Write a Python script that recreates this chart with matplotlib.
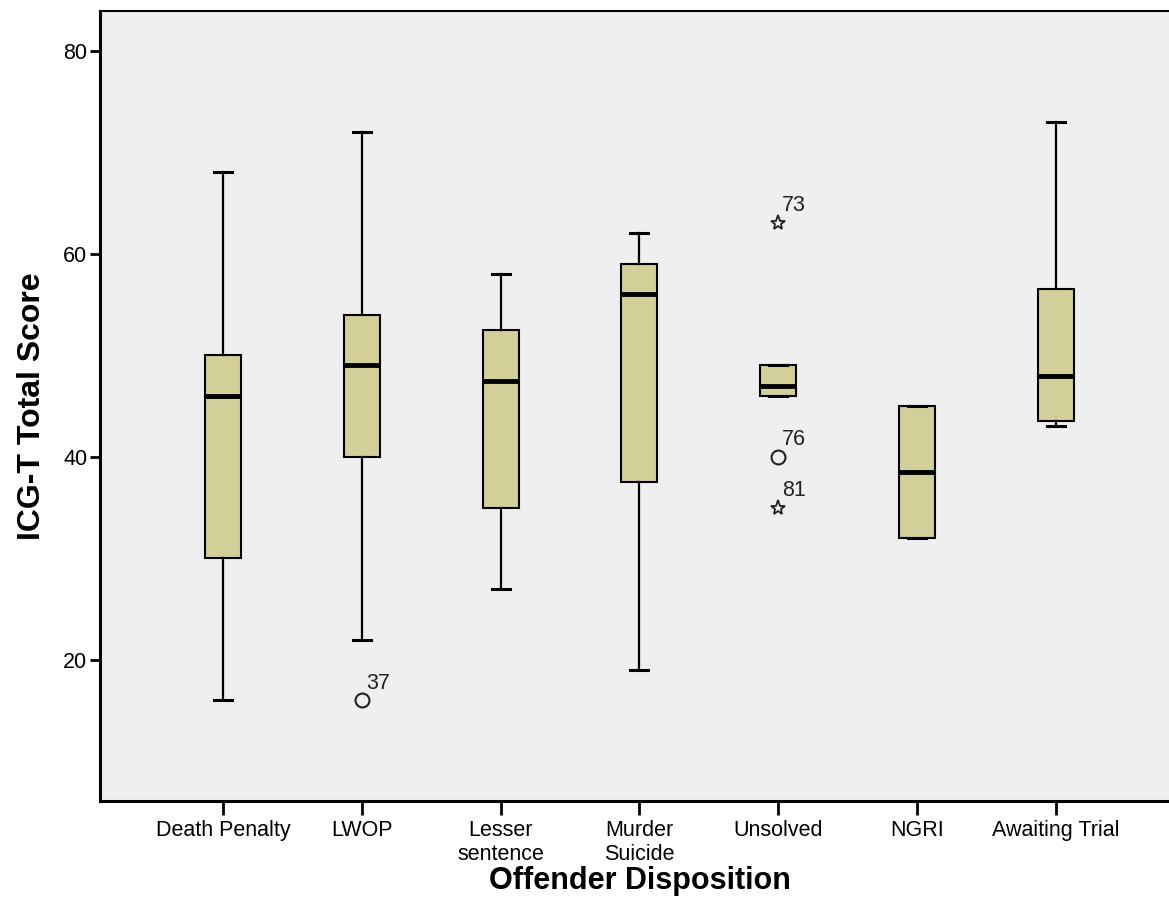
import matplotlib
matplotlib.use("Agg")
import matplotlib.pyplot as plt

plt.rcParams['font.family'] = ['Liberation Sans', 'DejaVu Sans']

# box statistics
categories = ['Death Penalty', 'LWOP', 'Lesser\nsentence', 'Murder\nSuicide',
              'Unsolved', 'NGRI', 'Awaiting Trial']
whis_lo = [16, 22, 27, 19, 46, 32, 43]
q1 = [30, 40, 35, 37.5, 46, 32, 43.5]
med = [46, 49, 47.5, 56, 47, 38.5, 48]
q3 = [50, 54, 52.5, 59, 49, 45, 56.5]
whis_hi = [68, 72, 58, 62, 49, 45, 73]

# outliers: category index, value, marker kind, case number
out_cat = [1, 4, 4, 4]
out_val = [16, 63, 40, 35]
out_kind = ['o', '*', 'o', '*']
out_id = ['37', '73', '76', '81']

box_color = '#d3cf98'
bg_color = '#efefef'

fig = plt.figure(figsize=(11.69, 9.17), dpi=100)
ax = fig.add_axes([100 / 1169, 1 - 801 / 917, 1080 / 1169, 790 / 917])
ax.set_facecolor(bg_color)

stats = []
for i in range(len(categories)):
    stats.append(dict(label=categories[i], whislo=whis_lo[i], q1=q1[i], med=med[i],
                      q3=q3[i], whishi=whis_hi[i], fliers=[]))

positions = list(range(1, len(categories) + 1))
ax.bxp(stats, positions=positions, widths=0.26, patch_artist=True,
       showfliers=False,
       boxprops=dict(facecolor=box_color, edgecolor='black', linewidth=1.5),
       medianprops=dict(color='black', linewidth=3.5, solid_capstyle='butt'),
       whiskerprops=dict(color='black', linewidth=1.6),
       capprops=dict(color='black', linewidth=2.2))

for c, v, k, lab in zip(out_cat, out_val, out_kind, out_id):
    x = positions[c]
    if k == 'o':
        ax.plot(x, v, marker='o', ms=10, mfc='none', mec='#222222', mew=1.5, ls='none')
    else:
        ax.plot(x, v, marker='*', ms=11, mfc='none', mec='#222222', mew=1.3, ls='none')
    ax.annotate(lab, (x, v), xytext=(3, 5), textcoords='offset points',
                fontsize=15.5, color='#222222', ha='left', va='bottom')

left = 1 - 123 / 138.8
ax.set_xlim(left, left + 1080 / 138.8)
ax.set_ylim(6.1, 83.9)
ax.set_yticks([20, 40, 60, 80])
ax.set_xticks(positions)
ax.set_xticklabels(categories, fontsize=15.5, linespacing=1.15)
ax.tick_params(axis='y', labelsize=15.5, length=7, width=2, pad=2)
ax.tick_params(axis='x', length=10, width=2, pad=4)

for s in ['left', 'bottom']:
    ax.spines[s].set_linewidth(2.2)
for s in ['top', 'right']:
    ax.spines[s].set_linewidth(1.5)

ax.set_xlabel('Offender Disposition', fontsize=22, fontweight='bold', labelpad=0.5)
ax.set_ylabel('ICG-T Total Score', fontsize=23, fontweight='bold', labelpad=12)

fig.savefig('out.png', dpi=100)
